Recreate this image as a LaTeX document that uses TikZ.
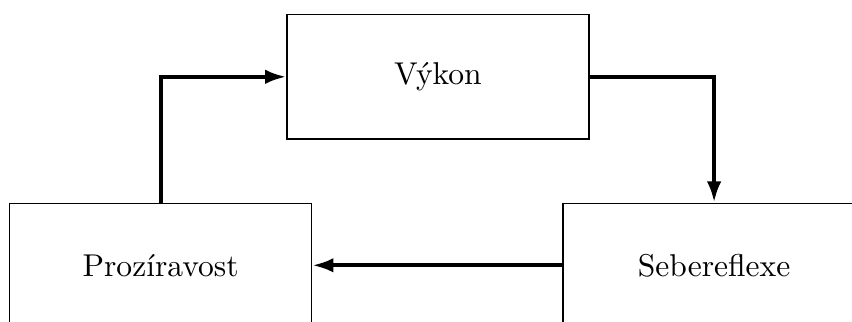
\documentclass[tikz,border=0pt]{standalone}
\usepackage{tikz}
\usetikzlibrary{positioning,arrows.meta}

\begin{document}
\begin{tikzpicture}[box/.style={rectangle,draw,minimum width=3.5cm,minimum height=1.44cm,
                                font=\fontsize{10.4pt}{12pt}\selectfont},
                    arr/.style={-{Latex[length=7pt,width=4.8pt]},line width=1.3pt}]
            \useasboundingbox (0,0) rectangle (9.873,-3.731);
            \node[box] (vykon) at (5.075,-0.89) {Výkon};
            \node[box] (proz)[below left =0.73cm and -0.3cm of vykon] {Prozíravost};
            \node[box] (sebe)[right =2.9cm of proz] {Sebereflexe};
            \draw[arr] (proz.north) |- (vykon.west);
            \draw[arr] (vykon.east) -| (sebe.north);
            \draw[arr] (sebe.west) -- (proz.east);
        \end{tikzpicture}
\end{document}
